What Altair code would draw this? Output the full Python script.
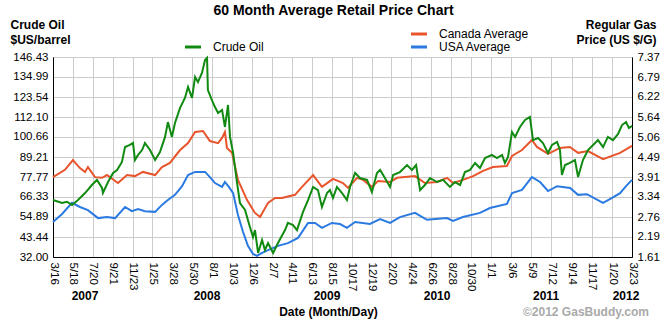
import altair as alt
import pandas as pd
import numpy as np

FONT = "Liberation Sans"
GREEN = "#118a11"
RED = "#e8542c"
BLUE = "#2a7ae2"

START = "2007-03-16"
END = "2012-03-23"

tick_dates = ["2007-03-16", "2007-05-18", "2007-07-20", "2007-09-21", "2007-11-23",
              "2008-01-25", "2008-03-28", "2008-05-30", "2008-08-01", "2008-10-03",
              "2008-12-06", "2009-02-07", "2009-04-11", "2009-06-13", "2009-08-15",
              "2009-10-17", "2009-12-19", "2010-02-20", "2010-04-24", "2010-06-26",
              "2010-08-28", "2010-10-30", "2011-01-01", "2011-03-06", "2011-05-09",
              "2011-07-12", "2011-09-14", "2011-11-17", "2012-01-20", "2012-03-23"]

crude_ticks = [32.00, 43.44, 54.89, 66.33, 77.77, 89.21, 100.66, 112.10, 123.54, 134.99, 146.43]
gas_ticks = [1.61, 2.19, 2.76, 3.34, 3.91, 4.49, 5.06, 5.64, 6.22, 6.79, 7.37]

# weeks since 2007-03-16
crude_weeks = [0, 4.1, 6.3, 8.6, 11.3, 14.5, 17.6, 19.9, 22.2, 22.6, 24.9, 27.2, 29.0, 31.2, 32.6,
               34.8, 36.2, 37.1, 38.5, 40.3, 41.6, 43.9, 46.2, 48.4, 50.7, 52.0, 53.8, 55.2, 57.5, 59.7,
               61.1, 62.9, 64.3, 65.6, 67.4, 68.8, 69.7, 70.1, 71.9, 73.3, 74.7, 76.5, 77.8, 79.2, 80.1,
               81.5, 83.3, 84.6, 86.9, 89.1, 90.5, 91.4, 92.8, 94.6, 95.9, 97.3, 99.6, 101.8, 105.0, 106.3,
               108.6, 110.4, 113.1, 115.4, 117.7, 119.9, 121.7, 124.0,
               125.3, 126.7, 128.5, 130.8, 133.0, 134.4, 136.7, 138.9, 142.1, 144.3, 146.6, 148.0, 150.2,
               152.5, 153.9, 157.0, 160.2, 162.4, 164.3, 166.1, 168.3, 170.6, 173.8, 176.5, 179.6, 181.9,
               184.2, 186.4, 188.7, 191.0, 193.2, 195.5, 198.6, 200.9, 203.2, 204.5, 205.9, 207.7, 209.1,
               211.3, 213.6, 215.8, 217.2, 219.5, 221.7, 224.0, 225.8, 228.1, 229.4, 230.3, 231.7, 233.9,
               236.2, 237.6, 239.8, 242.1, 244.4, 246.6, 248.9, 251.1, 253.4, 255.7, 257.5, 259.3, 260.6, 262.0]
crude_values = [64.6, 62.9, 63.6, 61.8, 64.6, 68.6, 73.2, 76.1, 71.5, 68.6, 74.9, 80.1, 81.8, 86.4, 94.9,
                96.1, 97.2, 87.5, 90.4, 93.2, 97.2, 93.2, 87.5, 92.1, 100.7, 109.2, 100.7, 108.7, 117.3, 123.0,
                129.3, 123.0, 135.0, 132.1, 137.3, 144.7, 145.9, 127.5, 121.8, 117.8, 114.4, 116.1, 106.4, 119.0, 100.7,
                91.5, 74.3, 62.9, 58.9, 49.2, 43.4, 47.4, 34.3, 41.7, 36.0, 40.0, 34.3, 40.0, 47.4, 51.5,
                50.3, 47.4, 57.7, 64.6, 72.1, 70.3, 60.6, 68.6,
                70.3, 65.8, 72.1, 68.6, 64.6, 72.1, 80.1, 77.2, 76.1, 69.2, 80.1, 81.8, 77.2,
                72.1, 78.9, 80.6, 84.6, 81.8, 84.6, 70.3, 73.2, 77.2, 74.9, 76.1, 72.1, 74.9,
                73.2, 80.6, 81.8, 85.8, 82.9, 88.6, 90.4, 88.6, 90.4, 85.8, 89.2, 103.5, 100.7,
                106.4, 110.4, 112.1, 98.9, 100.1, 97.2, 91.5, 96.1, 97.8, 93.2, 78.9, 84.6, 85.8,
                87.5, 77.8, 87.5, 93.2, 96.1, 98.9, 94.9, 100.7, 98.9, 102.4, 107.5, 109.2, 105.8, 107.0]

canada_weeks = [0, 5.4, 9.0, 12.2, 14.5, 15.8, 19.0, 22.2, 24.4, 29.4, 33.5, 37.1, 40.7, 46.2, 49.3,
                52.9, 57.5, 61.1, 64.3, 67.9, 71.0, 74.7, 76.5, 77.8, 78.7, 81.0, 83.7, 87.8, 91.4, 93.7,
                97.3, 100.5, 103.6, 109.5, 112.7, 117.7, 121.7, 126.7, 131.2, 133.5, 137.6, 140.3, 144.3, 147.1, 152.5,
                155.7, 163.8, 168.3, 173.8, 178.3, 181.0, 185.5, 190.1, 194.6, 199.1, 205.4, 207.7, 212.2, 216.7, 219.0,
                224.0, 229.4, 233.9, 237.6, 242.1, 248.9, 256.6, 262.0]
canada_values = [3.91, 4.12, 4.40, 4.17, 4.06, 4.20, 3.91, 3.89, 3.97, 3.74, 3.97, 3.94, 4.06, 3.97, 4.20,
                 4.32, 4.69, 4.89, 5.21, 5.24, 4.95, 4.89, 5.04, 5.21, 4.75, 4.61, 3.83, 3.25, 2.88, 2.76,
                 3.17, 3.31, 3.31, 3.40, 3.63, 3.97, 3.63, 3.86, 3.74, 3.60, 3.89, 3.83, 3.63, 3.80, 3.77,
                 3.89, 3.94, 3.74, 3.77, 3.89, 3.74, 3.83, 3.94, 4.09, 4.20, 4.23, 4.52, 4.69, 4.98, 4.78,
                 4.58, 4.75, 4.78, 4.61, 4.66, 4.43, 4.61, 4.81]

usa_weeks = [0, 4.1, 8.6, 12.2, 15.8, 20.4, 24.4, 28.1, 32.6, 35.7, 38.5, 41.6, 46.2, 49.3, 52.0,
             55.2, 58.4, 61.1, 64.3, 68.8, 71.0, 73.3, 76.5, 77.8, 79.6, 81.5, 83.7, 86.0, 88.2, 90.5,
             92.3, 94.6, 97.3, 101.8, 106.3, 110.9, 115.4, 118.6, 121.7, 126.2, 129.9, 133.0, 136.7, 143.4, 148.0,
             152.5, 157.0, 163.8, 169.2, 178.3, 181.0, 185.5, 193.2, 197.7, 205.4, 207.7, 212.2, 216.7, 220.4, 224.0,
             228.1, 234.0, 237.6, 241.6, 248.9, 253.0, 256.6, 259.3, 262.0]
usa_values = [2.62, 2.85, 3.17, 3.05, 2.96, 2.73, 2.76, 2.73, 3.05, 2.93, 2.99, 2.93, 2.91, 3.11, 3.25,
              3.40, 3.65, 3.97, 4.06, 4.06, 3.91, 3.74, 3.63, 3.77, 3.63, 3.45, 2.82, 2.33, 1.93, 1.70,
              1.64, 1.73, 1.81, 1.93, 2.01, 2.16, 2.59, 2.59, 2.45, 2.59, 2.56, 2.45, 2.62, 2.56, 2.70,
              2.59, 2.76, 2.88, 2.68, 2.73, 2.65, 2.76, 2.88, 3.02, 3.14, 3.45, 3.54, 3.91, 3.77, 3.51,
              3.65, 3.60, 3.40, 3.42, 3.17, 3.31, 3.45, 3.65, 3.83]

year_labels = ["2007", "2008", "2009", "2010", "2011", "2012"]
year_weeks = [14.5, 69.7, 124.0, 173.8, 223.1, 259.3]


def to_iso(weeks):
    t = pd.Timestamp(START) + pd.to_timedelta(np.asarray(weeks, dtype=float) * 7, unit="D")
    return list(t.strftime("%Y-%m-%dT%H:%M:%SZ"))


def dt(s):
    y, m, d = map(int, s.split("-"))
    return alt.DateTime(year=y, month=m, date=d, utc=True)


crude_df = pd.DataFrame({"date": to_iso(crude_weeks), "value": crude_values, "series": "Crude Oil"})
gas_df = pd.concat([
    pd.DataFrame({"date": to_iso(canada_weeks), "value": canada_values, "series": "Canada Average"}),
    pd.DataFrame({"date": to_iso(usa_weeks), "value": usa_values, "series": "USA Average"}),
])
years_df = pd.DataFrame({"date": to_iso(year_weeks), "year": year_labels})
credit_df = pd.DataFrame({"text": ["\u00a92012 GasBuddy.com"]})

x_scale = alt.Scale(type="utc", domain=[dt(START), dt(END)])
x_axis = alt.Axis(
    values=[dt(s) for s in tick_dates],
    labelExpr="utcFormat(datum.value, '%-m/%-d')",
    labelAngle=90, labelAlign="left", labelBaseline="middle", labelPadding=5,
    labelFont=FONT, labelFontSize=11.5, labelColor="black", labelOverlap=False, labelFlush=False,
    labelBound=False,
    grid=True, gridColor="#cccccc", gridWidth=1,
    domainColor="black", ticks=False,
    title="Date (Month/Day)", titleFont=FONT, titleFontSize=12, titleFontWeight="bold",
    titleColor="black", titleX=275, titleY=54, titleAlign="center", titleBaseline="middle",
)
x_enc = alt.X("date:T", scale=x_scale, axis=x_axis)

legend_common = dict(title=None, orient="none", symbolType="M-2,0H2", symbolSize=64,
                     symbolStrokeWidth=3, labelFont=FONT, labelFontSize=12, labelColor="black",
                     labelOffset=14, padding=0, rowPadding=1)

crude = alt.Chart(crude_df).mark_line(strokeWidth=2).encode(
    x=x_enc,
    y=alt.Y("value:Q", scale=alt.Scale(domain=[32.00, 146.43], nice=False, zero=False),
            axis=alt.Axis(values=crude_ticks, format=".2f", orient="left",
                          labelFont=FONT, labelFontSize=11.5, labelColor="black", labelPadding=5,
                          grid=True, gridColor="#cccccc", domainColor="black", ticks=False,
                          title=["Crude Oil", "$US/barrel"], titleAngle=0, titleAlign="left",
                          titleBaseline="top", titleX=-43, titleY=-38, titleFont=FONT,
                          titleFontSize=12, titleFontWeight="bold", titleColor="black",
                          titleLineHeight=15)),
    stroke=alt.Stroke("series:N", scale=alt.Scale(domain=["Crude Oil"], range=[GREEN]),
                      legend=alt.Legend(legendX=134, legendY=-16, **legend_common)),
)

gas = alt.Chart(gas_df).mark_line(strokeWidth=2).encode(
    x=x_enc,
    y=alt.Y("value:Q", scale=alt.Scale(domain=[1.61, 7.37], nice=False, zero=False),
            axis=alt.Axis(values=gas_ticks, format=".2f", orient="right",
                          labelFont=FONT, labelFontSize=11.5, labelColor="black", labelPadding=5,
                          grid=False, domainColor="black", ticks=False,
                          title=["Regular Gas", "Price (US $/G)"], titleAngle=0, titleAlign="right",
                          titleBaseline="top", titleX=24, titleY=-38, titleFont=FONT,
                          titleFontSize=12, titleFontWeight="bold", titleColor="black",
                          titleLineHeight=15)),
    color=alt.Color("series:N", scale=alt.Scale(domain=["Canada Average", "USA Average"], range=[RED, BLUE]),
                    legend=alt.Legend(legendX=360, legendY=-29, **legend_common)),
)

years = alt.Chart(years_df).mark_text(font=FONT, fontSize=12, fontWeight="bold", color="black",
                                       baseline="middle", align="center").encode(
    x=x_enc,
    y=alt.value(239),
    text="year:N",
)

credit = alt.Chart(credit_df).mark_text(font=FONT, fontSize=12, fontWeight="bold", color="#aaaaaa",
                                         baseline="middle", align="right").encode(
    x=alt.value(596), y=alt.value(255), text="text:N",
)

chart = alt.layer(gas, crude, years, credit).resolve_scale(
    y="independent"
).properties(
    width=579, height=200,
    title=alt.Title("60 Month Average Retail Price Chart", font=FONT, fontSize=14, fontWeight="bold",
                    color="black", anchor="middle", frame="group", offset=0, dx=-9),
    autosize=alt.AutoSizeParams(type="none"),
    padding={"left": 53, "top": 57, "right": 35, "bottom": 76},
    background="white",
).configure_view(stroke="black", strokeWidth=1)

chart.save("out.html", embed_options={"renderer": "svg", "actions": False})
